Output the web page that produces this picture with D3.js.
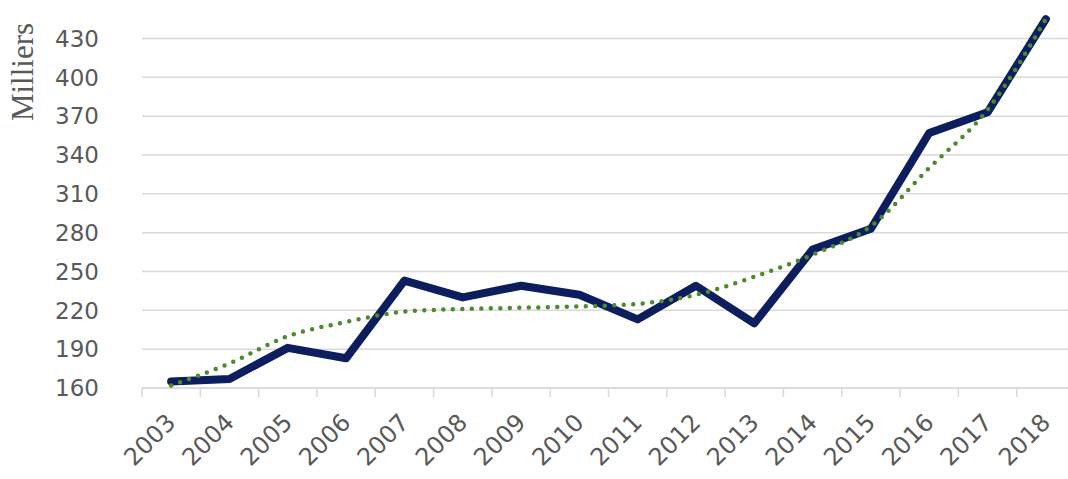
<!DOCTYPE html>
<html>
<head>
<meta charset="utf-8">
<script src="https://cdn.jsdelivr.net/npm/d3@7"></script>
<style>
  body { margin: 0; background: #fff; }
  svg { display: block; }
</style>
</head>
<body>
<script>
// data
var years = ["2003","2004","2005","2006","2007","2008","2009","2010",
             "2011","2012","2013","2014","2015","2016","2017","2018"];
var values = [165, 167, 191, 183, 243, 230, 239, 232,
              213, 239, 210, 267, 283, 357, 373, 445];
// dotted trend line as drawn in the picture
var trend = [162, 179, 200, 211, 219, 221, 222, 223,
             225, 232, 246, 263, 285, 330, 375, 445];
var yTicks = [160, 190, 220, 250, 280, 310, 340, 370, 400, 430];

var width = 1068, height = 479;
var plotLeft = 142, plotRight = 1075, plotTop = 38.5, plotBottom = 388;

var svg = d3.select("body").append("svg")
    .attr("width", width)
    .attr("height", height);

var x = d3.scaleBand().domain(years).range([plotLeft, plotRight]);
var y = d3.scaleLinear().domain([160, 430]).range([plotBottom, plotTop]);

// horizontal gridlines
svg.append("g").selectAll("line")
   .data(yTicks)
   .join("line")
   .attr("x1", plotLeft)
   .attr("x2", width)
   .attr("y1", function(d) { return y(d); })
   .attr("y2", function(d) { return y(d); })
   .attr("stroke", "#d9d9d9")
   .attr("stroke-width", 1.5);

// y tick labels
svg.append("g").selectAll("text")
   .data(yTicks)
   .join("text")
   .attr("x", 99)
   .attr("y", function(d) { return y(d); })
   .attr("dy", "0.36em")
   .attr("text-anchor", "end")
   .attr("font-family", "DejaVu Sans")
   .attr("font-size", 23)
   .attr("fill", "#595959")
   .text(function(d) { return d; });

// y title
svg.append("text")
   .attr("transform", "translate(33,72) rotate(-90)")
   .attr("text-anchor", "middle")
   .attr("font-family", "Liberation Serif")
   .attr("font-size", 31)
   .attr("fill", "#595959")
   .text("Milliers");

// x axis with ticks between categories
var xAxis = svg.append("g")
   .attr("transform", "translate(0," + plotBottom + ")")
   .call(d3.axisBottom(x).tickSize(0).tickPadding(0));
xAxis.select(".domain").remove();
xAxis.append("line")
   .attr("x1", plotLeft).attr("x2", width)
   .attr("stroke", "#d9d9d9").attr("stroke-width", 1.5);
xAxis.selectAll(".sep")
   .data(d3.range(years.length + 1))
   .join("line")
   .attr("class", "sep")
   .attr("x1", function(i) { return plotLeft + i * x.step(); })
   .attr("x2", function(i) { return plotLeft + i * x.step(); })
   .attr("y1", 0).attr("y2", 9)
   .attr("stroke", "#d9d9d9").attr("stroke-width", 1.5);
xAxis.selectAll(".tick text")
   .attr("font-family", "DejaVu Sans")
   .attr("font-size", 24)
   .attr("fill", "#595959")
   .attr("text-anchor", "end")
   .attr("dy", 0)
   .attr("transform", "translate(6,36) rotate(-45)");

var cx = function(d, i) { return x(years[i]) + x.bandwidth() / 2; };

// main series
svg.append("path")
   .datum(values)
   .attr("fill", "none")
   .attr("stroke", "#0d1e5f")
   .attr("stroke-width", 8)
   .attr("stroke-linejoin", "round")
   .attr("stroke-linecap", "round")
   .attr("d", d3.line().x(cx).y(function(d) { return y(d); }));

// dotted trend
svg.append("path")
   .datum(trend)
   .attr("fill", "none")
   .attr("stroke", "#4d8a2e")
   .attr("stroke-width", 4.5)
   .attr("stroke-linecap", "round")
   .attr("stroke-dasharray", "0 9.5")
   .attr("d", d3.line().x(cx).y(function(d) { return y(d); }).curve(d3.curveMonotoneX));
</script>
</body>
</html>
